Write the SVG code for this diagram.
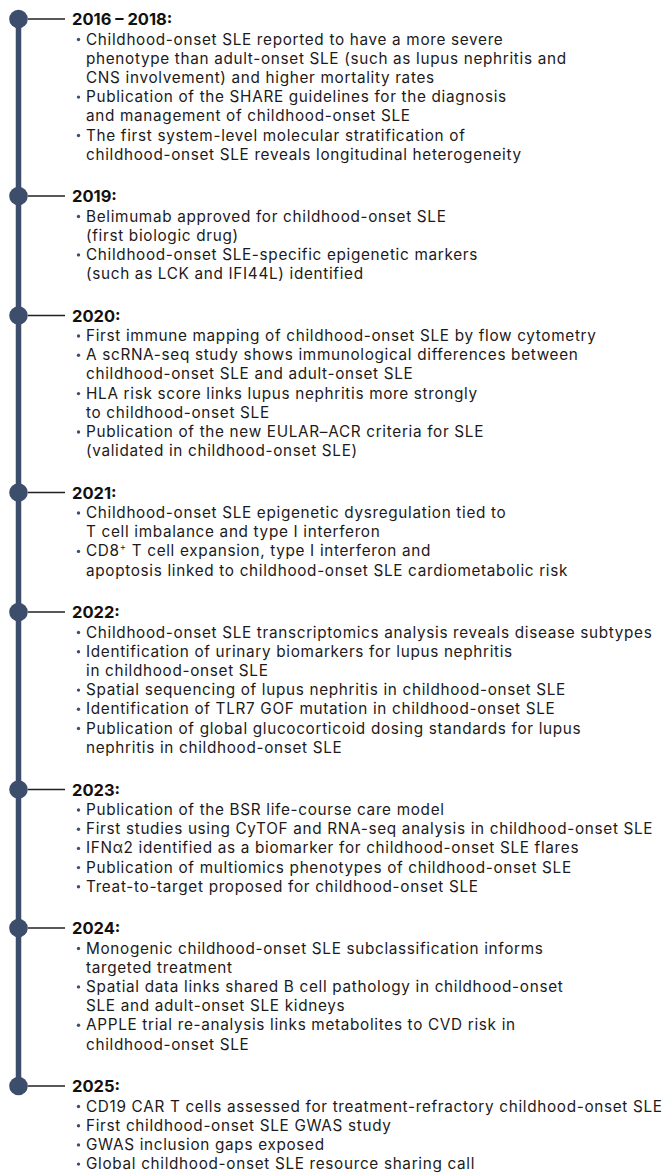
<svg xmlns="http://www.w3.org/2000/svg" width="663" height="1174" viewBox="0 0 663 1174">
<style>
.bg{fill:#ffffff}
.dot{fill:#3d4d6c}
.spine{stroke:#3d4d6c;stroke-width:5.5;fill:none}
.tick{stroke:#231f20;stroke-width:1.3;fill:none}
.yr{font-family:Inter,"Liberation Sans",sans-serif;font-weight:700;font-size:16.5px;fill:#111111}
.tx{font-family:Inter,"Liberation Sans",sans-serif;font-size:15.3px;letter-spacing:0.68px;fill:#1c1a1b}
.bul{fill:#3d4d6c}
.sup{font-size:9.5px}
</style>
<rect class="bg" x="0" y="0" width="663" height="1174"/>
<g id="connectors">
<line class="spine" x1="18.5" y1="19" x2="18.5" y2="1086"/>
<line class="tick" x1="28" y1="19" x2="65" y2="19"/>
<line class="tick" x1="28" y1="196" x2="65" y2="196"/>
<line class="tick" x1="28" y1="315.5" x2="65" y2="315.5"/>
<line class="tick" x1="28" y1="492.5" x2="65" y2="492.5"/>
<line class="tick" x1="28" y1="612" x2="65" y2="612"/>
<line class="tick" x1="28" y1="789.5" x2="65" y2="789.5"/>
<line class="tick" x1="28" y1="928" x2="65" y2="928"/>
<line class="tick" x1="28" y1="1086" x2="65" y2="1086"/>
</g>
<g id="y2016">
<circle class="dot" cx="18.5" cy="19" r="9.3"/>
<text class="yr" x="72" y="25">2016 – 2018:</text>
<circle class="bul" cx="78.5" cy="39.5" r="1.7"/>
<circle class="bul" cx="78.5" cy="97.1" r="1.7"/>
<circle class="bul" cx="78.5" cy="135.5" r="1.7"/>
<text class="tx" x="86" y="44.5">Childhood-onset SLE reported to have a more severe</text>
<text class="tx" x="86" y="63.7">phenotype than adult-onset SLE (such as lupus nephritis and</text>
<text class="tx" x="86" y="82.9">CNS involvement) and higher mortality rates</text>
<text class="tx" x="86" y="102.1">Publication of the SHARE guidelines for the diagnosis</text>
<text class="tx" x="86" y="121.3">and management of childhood-onset SLE</text>
<text class="tx" x="86" y="140.5">The first system-level molecular stratification of</text>
<text class="tx" x="86" y="159.7">childhood-onset SLE reveals longitudinal heterogeneity</text>
</g>
<g id="y2019">
<circle class="dot" cx="18.5" cy="196" r="9.3"/>
<text class="yr" x="72" y="202">2019:</text>
<circle class="bul" cx="78.5" cy="216.5" r="1.7"/>
<circle class="bul" cx="78.5" cy="254.9" r="1.7"/>
<text class="tx" x="86" y="221.5">Belimumab approved for childhood-onset SLE</text>
<text class="tx" x="86" y="240.7">(first biologic drug)</text>
<text class="tx" x="86" y="259.9">Childhood-onset SLE-specific epigenetic markers</text>
<text class="tx" x="86" y="279.1">(such as LCK and IFI44L) identified</text>
</g>
<g id="y2020">
<circle class="dot" cx="18.5" cy="315.5" r="9.3"/>
<text class="yr" x="72" y="321.5">2020:</text>
<circle class="bul" cx="78.5" cy="336" r="1.7"/>
<circle class="bul" cx="78.5" cy="355.2" r="1.7"/>
<circle class="bul" cx="78.5" cy="393.6" r="1.7"/>
<circle class="bul" cx="78.5" cy="432" r="1.7"/>
<text class="tx" x="86" y="341">First immune mapping of childhood-onset SLE by flow cytometry</text>
<text class="tx" x="86" y="360.2">A scRNA-seq study shows immunological differences between</text>
<text class="tx" x="86" y="379.4">childhood-onset SLE and adult-onset SLE</text>
<text class="tx" x="86" y="398.6">HLA risk score links lupus nephritis more strongly</text>
<text class="tx" x="86" y="417.8">to childhood-onset SLE</text>
<text class="tx" x="86" y="437">Publication of the new EULAR–ACR criteria for SLE</text>
<text class="tx" x="86" y="456.2">(validated in childhood-onset SLE)</text>
</g>
<g id="y2021">
<circle class="dot" cx="18.5" cy="492.5" r="9.3"/>
<text class="yr" x="72" y="498.5">2021:</text>
<circle class="bul" cx="78.5" cy="513" r="1.7"/>
<circle class="bul" cx="78.5" cy="551.4" r="1.7"/>
<text class="tx" x="86" y="518">Childhood-onset SLE epigenetic dysregulation tied to</text>
<text class="tx" x="86" y="537.2">T cell imbalance and type I interferon</text>
<text class="tx" x="86" y="556.4">CD8<tspan class="sup" dy="-6">+</tspan><tspan dy="6"> T cell expansion, type I interferon and</tspan></text>
<text class="tx" x="86" y="575.6">apoptosis linked to childhood-onset SLE cardiometabolic risk</text>
</g>
<g id="y2022">
<circle class="dot" cx="18.5" cy="612" r="9.3"/>
<text class="yr" x="72" y="618">2022:</text>
<circle class="bul" cx="78.5" cy="632.5" r="1.7"/>
<circle class="bul" cx="78.5" cy="651.7" r="1.7"/>
<circle class="bul" cx="78.5" cy="690.1" r="1.7"/>
<circle class="bul" cx="78.5" cy="709.3" r="1.7"/>
<circle class="bul" cx="78.5" cy="728.5" r="1.7"/>
<text class="tx" x="86" y="637.5">Childhood-onset SLE transcriptomics analysis reveals disease subtypes</text>
<text class="tx" x="86" y="656.7">Identification of urinary biomarkers for lupus nephritis</text>
<text class="tx" x="86" y="675.9">in childhood-onset SLE</text>
<text class="tx" x="86" y="695.1">Spatial sequencing of lupus nephritis in childhood-onset SLE</text>
<text class="tx" x="86" y="714.3">Identification of TLR7 GOF mutation in childhood-onset SLE</text>
<text class="tx" x="86" y="733.5">Publication of global glucocorticoid dosing standards for lupus</text>
<text class="tx" x="86" y="752.7">nephritis in childhood-onset SLE</text>
</g>
<g id="y2023">
<circle class="dot" cx="18.5" cy="789.5" r="9.3"/>
<text class="yr" x="72" y="795.5">2023:</text>
<circle class="bul" cx="78.5" cy="810" r="1.7"/>
<circle class="bul" cx="78.5" cy="829.2" r="1.7"/>
<circle class="bul" cx="78.5" cy="848.4" r="1.7"/>
<circle class="bul" cx="78.5" cy="867.6" r="1.7"/>
<circle class="bul" cx="78.5" cy="886.8" r="1.7"/>
<text class="tx" x="86" y="815">Publication of the BSR life-course care model</text>
<text class="tx" x="86" y="834.2">First studies using CyTOF and RNA-seq analysis in childhood-onset SLE</text>
<text class="tx" x="86" y="853.4">IFNα2 identified as a biomarker for childhood-onset SLE flares</text>
<text class="tx" x="86" y="872.6">Publication of multiomics phenotypes of childhood-onset SLE</text>
<text class="tx" x="86" y="891.8">Treat-to-target proposed for childhood-onset SLE</text>
</g>
<g id="y2024">
<circle class="dot" cx="18.5" cy="928" r="9.3"/>
<text class="yr" x="72" y="934">2024:</text>
<circle class="bul" cx="78.5" cy="948.5" r="1.7"/>
<circle class="bul" cx="78.5" cy="986.9" r="1.7"/>
<circle class="bul" cx="78.5" cy="1025.3" r="1.7"/>
<text class="tx" x="86" y="953.5">Monogenic childhood-onset SLE subclassification informs</text>
<text class="tx" x="86" y="972.7">targeted treatment</text>
<text class="tx" x="86" y="991.9">Spatial data links shared B cell pathology in childhood-onset</text>
<text class="tx" x="86" y="1011.1">SLE and adult-onset SLE kidneys</text>
<text class="tx" x="86" y="1030.3">APPLE trial re-analysis links metabolites to CVD risk in</text>
<text class="tx" x="86" y="1049.5">childhood-onset SLE</text>
</g>
<g id="y2025">
<circle class="dot" cx="18.5" cy="1086" r="9.3"/>
<text class="yr" x="72" y="1092">2025:</text>
<circle class="bul" cx="78.5" cy="1106.5" r="1.7"/>
<circle class="bul" cx="78.5" cy="1125.7" r="1.7"/>
<circle class="bul" cx="78.5" cy="1144.9" r="1.7"/>
<circle class="bul" cx="78.5" cy="1164.1" r="1.7"/>
<text class="tx" x="86" y="1111.5">CD19 CAR T cells assessed for treatment-refractory childhood-onset SLE</text>
<text class="tx" x="86" y="1130.7">First childhood-onset SLE GWAS study</text>
<text class="tx" x="86" y="1149.9">GWAS inclusion gaps exposed</text>
<text class="tx" x="86" y="1169.1">Global childhood-onset SLE resource sharing call</text>
</g>
</svg>
